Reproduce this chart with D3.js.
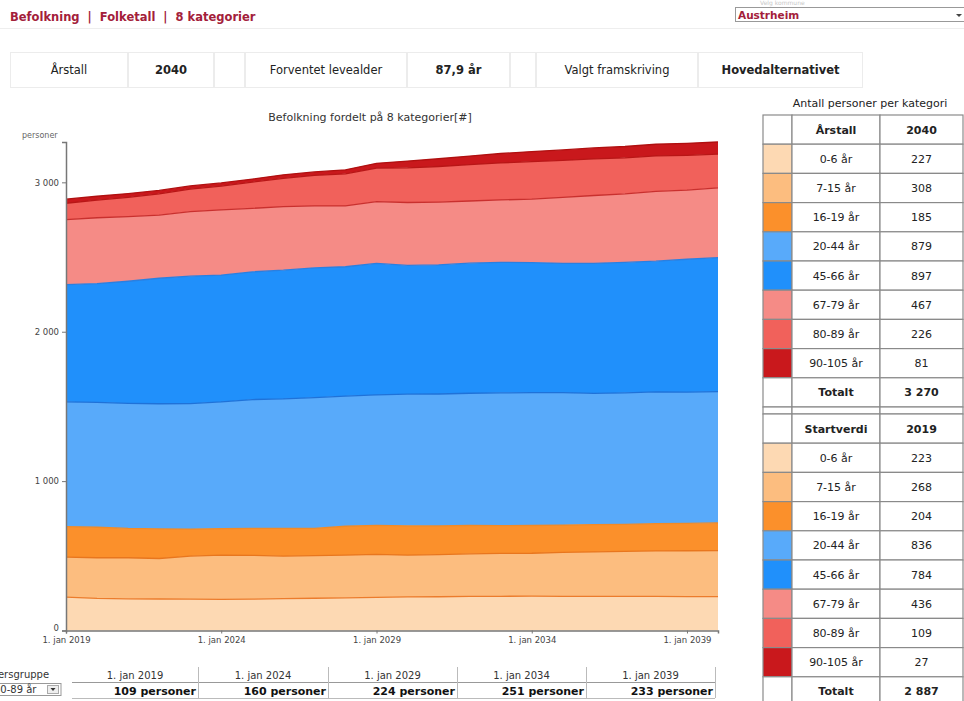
<!DOCTYPE html>
<html>
<head>
<meta charset="utf-8">
<script src="https://cdn.jsdelivr.net/npm/d3@7"></script>
<style>
  body { margin: 0; background: #fff; }
  svg { display: block; font-family: "DejaVu Sans", Verdana, sans-serif; }
</style>
</head>
<body>
<svg id="page" width="964" height="701"></svg>
<script>
// årstall i grafen
const years = [2019, 2020, 2021, 2022, 2023, 2024, 2025, 2026, 2027, 2028, 2029,
  2030, 2031, 2032, 2033, 2034, 2035, 2036, 2037, 2038, 2039, 2040];

const ageGroups = ["0-6 år", "7-15 år", "16-19 år", "20-44 år", "45-66 år", "67-79 år", "80-89 år", "90-105 år"];
const fillColors = ["#fdd9b3", "#fcbd7f", "#fb902b", "#58aafa", "#2090fb", "#f58b86", "#f1615b", "#c9181c"];
const lineColors = ["#ec7c2c", "#e8761e", "#f08a28", "#1f72d8", "#2a7fe0", "#c9302e", "#b81616", "#b01010"];

// antall personer per kategori, 2019-2040
const age0_6   = [223, 215, 212, 211, 210, 209, 210, 213, 216, 219, 222, 225, 226, 228, 229, 230, 229, 228, 228, 228, 227, 227];
const age7_15  = [268, 272, 275, 271, 288, 295, 293, 285, 285, 285, 287, 279, 282, 285, 287, 287, 294, 298, 302, 305, 307, 308];
const age16_19 = [204, 204, 196, 198, 181, 177, 181, 186, 183, 194, 195, 197, 192, 190, 186, 186, 183, 183, 181, 182, 183, 185];
const age20_44 = [836, 836, 838, 838, 840, 849, 862, 866, 875, 871, 873, 881, 883, 885, 889, 889, 886, 878, 880, 882, 879, 879];
const age45_66 = [784, 795, 817, 840, 853, 849, 855, 862, 869, 866, 880, 862, 864, 871, 873, 871, 866, 871, 873, 875, 889, 897];
const age67_79 = [436, 441, 432, 423, 432, 436, 425, 425, 414, 407, 414, 421, 421, 416, 418, 425, 441, 454, 459, 468, 463, 467];
const age80_89 = [109, 118, 130, 142, 151, 160, 176, 190, 204, 215, 224, 232, 238, 243, 248, 251, 248, 245, 241, 237, 233, 226];
const age90_105 = [27, 26, 25, 23, 21, 21, 20, 23, 24, 27, 32, 45, 52, 58, 63, 67, 70, 73, 76, 78, 80, 81];

const seriesValues = [age0_6, age7_15, age16_19, age20_44, age45_66, age67_79, age80_89, age90_105];

const tickYears = [2019, 2024, 2029, 2034, 2039];
const yTicks = [0, 1000, 2000, 3000];

const infoTexts = ["Årstall", "2040", "", "Forventet levealder", "87,9 år", "", "Valgt framskriving", "Hovedalternativet"];
const infoBold = [false, true, false, false, true, false, false, true];

const svg = d3.select("#page");
const red = "#a3203a";
const nb = d3.formatLocale({ decimal: ",", thousands: " ", grouping: [3], currency: ["", " kr"] });
const fmt = nb.format(",d");

// ---- topp
svg.append("text").attr("x", 10).attr("y", 21).style("white-space", "pre")
  .attr("fill", red).attr("font-size", 11.5).attr("font-weight", "bold")
  .text("Befolkning  |  Folketall  |  8 kategorier");
svg.append("line").attr("x1", 0).attr("x2", 964).attr("y1", 28.5).attr("y2", 28.5)
  .attr("stroke", "#eeeeee");

svg.append("text").attr("x", 760).attr("y", 5).attr("fill", "#c8c8c8").attr("font-size", 6)
  .text("Velg kommune");
svg.append("rect").attr("x", 735.5).attr("y", 7.5).attr("width", 240).attr("height", 14)
  .attr("fill", "#fff").attr("stroke", "#999");
svg.append("text").attr("x", 738).attr("y", 18.5).attr("fill", red)
  .attr("font-size", 10.5).attr("font-weight", "bold").text("Austrheim");
svg.append("path").attr("d", "M956,14 l3,3 l3,-3 z").attr("fill", "#444");

// ---- infolinje
const infoEdges = [10, 128, 214, 245, 407, 510, 536, 698, 863];
infoTexts.forEach((t, i) => {
  const x0 = infoEdges[i], x1 = infoEdges[i + 1];
  svg.append("rect").attr("x", x0 + 0.5).attr("y", 52.5).attr("width", x1 - x0 - 1).attr("height", 35)
    .attr("fill", "#fff").attr("stroke", "#ececec");
  svg.append("text").attr("x", (x0 + x1) / 2).attr("y", 74).attr("text-anchor", "middle")
    .attr("font-size", 11.5).attr("font-weight", infoBold[i] ? "bold" : "normal")
    .attr("fill", "#222").text(t);
});

// ---- graf
const x = d3.scaleTime()
  .domain([new Date(years[0], 0, 1), new Date(years[years.length - 1], 0, 1)])
  .range([66, 718]);
const rows = years.map((yr, i) => {
  const r = { date: new Date(yr, 0, 1) };
  ageGroups.forEach((g, j) => { r[g] = seriesValues[j][i]; });
  return r;
});
const stacked = d3.stack().keys(ageGroups)(rows);
const maxTotal = d3.max(rows, r => d3.sum(ageGroups, g => r[g]));
const y = d3.scaleLinear().domain([0, maxTotal]).range([630.5, 142]);

svg.append("text").attr("x", 370).attr("y", 121).attr("text-anchor", "middle")
  .attr("font-size", 11).attr("fill", "#333").text("Befolkning fordelt på 8 kategorier[#]");
svg.append("text").attr("x", 22).attr("y", 138).attr("font-size", 8).attr("fill", "#666").text("personer");

const area = d3.area().x(d => x(d.data.date)).y0(d => y(d[0])).y1(d => y(d[1]));
const topLine = d3.line().x(d => x(d.data.date)).y(d => y(d[1]));

const layers = svg.append("g");
layers.selectAll("path.area").data(stacked).enter().append("path")
  .attr("class", "area").attr("d", area).attr("fill", (d, i) => fillColors[i]);
layers.selectAll("path.edge").data(stacked).enter().append("path")
  .attr("class", "edge").attr("d", topLine).attr("fill", "none")
  .attr("stroke", (d, i) => lineColors[i]).attr("stroke-width", 1.3);

const yAxis = svg.append("g").attr("transform", "translate(66,0)")
  .call(d3.axisLeft(y).tickValues(yTicks).tickSize(4).tickFormat(fmt));
yAxis.select(".domain").attr("stroke", "#777").attr("stroke-width", 1.5);
yAxis.selectAll(".tick line").attr("stroke", "#777");
yAxis.selectAll("text").attr("font-size", 8.5).attr("fill", "#444")
  .attr("font-family", "DejaVu Sans, sans-serif");
yAxis.selectAll(".tick").filter(d => d === 0).select("text").attr("dy", "0.05em");

const xAxis = svg.append("g").attr("transform", "translate(0,630.5)")
  .call(d3.axisBottom(x).tickValues(tickYears.map(v => new Date(v, 0, 1))).tickSize(3)
    .tickFormat(d => "1. jan " + d.getFullYear()));
xAxis.select(".domain").attr("stroke", "#777").attr("stroke-width", 1.5);
xAxis.selectAll(".tick line").attr("stroke", "#777");
xAxis.selectAll("text").attr("font-size", 8.5).attr("fill", "#444").attr("dy", "0.75em")
  .attr("font-family", "DejaVu Sans, sans-serif");

// ---- tabell til høyre
svg.append("text").attr("x", 870).attr("y", 107).attr("text-anchor", "middle")
  .attr("font-size", 11).attr("fill", "#222").text("Antall personer per kategori");

const colX = [763, 792, 880, 963];
const rowH = 29.2;
function sideTable(top, headLabel, headValue, idx) {
  const g = svg.append("g");
  const values = seriesValues.map(s => s[idx]);
  const allRows = [{ label: headLabel, value: String(headValue), bold: true, color: null }]
    .concat(ageGroups.map((a, i) => ({ label: a, value: fmt(values[i]), bold: false, color: fillColors[i] })))
    .concat([{ label: "Totalt", value: fmt(d3.sum(values)), bold: true, color: null }]);
  allRows.forEach((r, i) => {
    const y0 = top + i * rowH;
    g.append("rect").attr("x", colX[0]).attr("y", y0).attr("width", colX[1] - colX[0]).attr("height", rowH)
      .attr("fill", r.color || "#fff").attr("stroke", "#8a8a8a").attr("stroke-width", 1.2);
    g.append("rect").attr("x", colX[1]).attr("y", y0).attr("width", colX[2] - colX[1]).attr("height", rowH)
      .attr("fill", "#fff").attr("stroke", "#8a8a8a").attr("stroke-width", 1.2);
    g.append("rect").attr("x", colX[2]).attr("y", y0).attr("width", colX[3] - colX[2]).attr("height", rowH)
      .attr("fill", "#fff").attr("stroke", "#8a8a8a").attr("stroke-width", 1.2);
    g.append("text").attr("x", (colX[1] + colX[2]) / 2).attr("y", y0 + rowH / 2 + 4)
      .attr("text-anchor", "middle").attr("font-size", 11).attr("fill", "#222")
      .attr("font-weight", r.bold ? "bold" : "normal").text(r.label);
    g.append("text").attr("x", (colX[2] + colX[3]) / 2).attr("y", y0 + rowH / 2 + 4)
      .attr("text-anchor", "middle").attr("font-size", 11).attr("fill", "#222")
      .attr("font-weight", r.bold ? "bold" : "normal").text(r.value);
  });
  return top + allRows.length * rowH;
}
const end1 = sideTable(115, "Årstall", years[years.length - 1], years.length - 1);
// tynn skillerad
colX.slice(0, 3).forEach((cx, i) => {
  svg.append("rect").attr("x", cx).attr("y", end1).attr("width", colX[i + 1] - cx).attr("height", 7)
    .attr("fill", "#fff").attr("stroke", "#8a8a8a").attr("stroke-width", 1.2);
});
sideTable(end1 + 7, "Startverdi", years[0], 0);

// ---- tabell under grafen (80-89 år)
const bottomEdges = [72, 198, 328, 457, 586, 715];
const g80 = age80_89;
svg.append("text").attr("x", -18).attr("y", 678).attr("font-size", 10).attr("fill", "#333").text("Aldersgruppe");
svg.append("rect").attr("x", -1).attr("y", 683.5).attr("width", 62).attr("height", 12)
  .attr("fill", "#fff").attr("stroke", "#999");
svg.append("text").attr("x", -6).attr("y", 693).attr("font-size", 10).attr("fill", "#333").text("80-89 år");
svg.append("rect").attr("x", 47.5).attr("y", 685.5).attr("width", 11).attr("height", 8)
  .attr("fill", "#eee").attr("stroke", "#aaa");
svg.append("path").attr("d", "M50.5,688 l2.5,3 l2.5,-3 z").attr("fill", "#333");

svg.append("line").attr("x1", bottomEdges[0]).attr("x2", bottomEdges[5]).attr("y1", 682.5).attr("y2", 682.5)
  .attr("stroke", "#999").attr("stroke-width", 1.2);
svg.append("line").attr("x1", bottomEdges[0]).attr("x2", bottomEdges[5]).attr("y1", 698.5).attr("y2", 698.5)
  .attr("stroke", "#bbb").attr("stroke-width", 1.2);
tickYears.forEach((yr, i) => {
  const x0 = bottomEdges[i], x1 = bottomEdges[i + 1];
  svg.append("line").attr("x1", x1 + 0.5).attr("x2", x1 + 0.5).attr("y1", 667).attr("y2", 698)
    .attr("stroke", "#bbb");
  svg.append("text").attr("x", (x0 + x1) / 2).attr("y", 679).attr("text-anchor", "middle")
    .attr("font-size", 10).attr("fill", "#333").text("1. jan " + yr);
  svg.append("text").attr("x", x1 - 2).attr("y", 695).attr("text-anchor", "end")
    .attr("font-size", 11).attr("font-weight", "bold").attr("fill", "#111")
    .text(g80[years.indexOf(yr)] + " personer");
});
</script>
</body>
</html>
